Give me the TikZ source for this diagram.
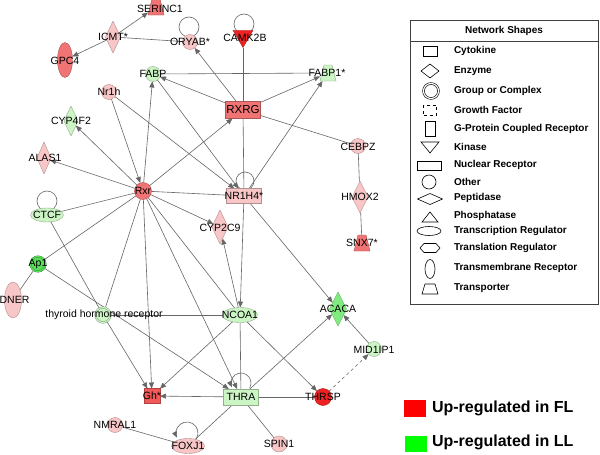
\documentclass[tikz,border=0pt]{standalone}
\usepackage{fontspec}
\setmainfont{Liberation Sans}
\usetikzlibrary{shapes.geometric,arrows.meta,backgrounds}
\definecolor{redS}{HTML}{EE2222}
\definecolor{redM}{HTML}{F07474}
\definecolor{redG}{HTML}{F25A5A}
\definecolor{pinkc}{HTML}{F8C6C6}
\definecolor{lgreen}{HTML}{CCF4C4}
\definecolor{greenc}{HTML}{5ADF5A}
\definecolor{greenA}{HTML}{80EC80}
\definecolor{edgec}{HTML}{666666}
\begin{document}
\begin{tikzpicture}[x=1pt,y=1pt,
 every node/.style={inner sep=0pt,outer sep=0pt},
 lbl/.style={font=\fontsize{10.5}{12}\selectfont},
 nd/.style={draw=#1!72!black, fill=#1, line width=0.4pt},
 nrect/.style={rectangle, minimum width=35pt, minimum height=16pt},
 nsq/.style={rectangle, minimum width=16pt, minimum height=15pt},
 ndia/.style={diamond, minimum width=16pt, minimum height=32pt},
 ncirc/.style={circle, minimum size=15pt},
 ngrp/.style={circle, minimum size=15pt, draw=#1!60!black, fill=#1, double=#1, double distance=1.2pt, line width=0.4pt},
 nell/.style={ellipse, minimum width=34pt, minimum height=15pt},
 nvell/.style={ellipse, minimum width=15pt, minimum height=35pt},
 ntrapbox/.style={rectangle, minimum width=16pt, minimum height=16pt},
 nkin/.style={regular polygon, regular polygon sides=3, shape border rotate=180, minimum size=23pt},
 e/.style={draw=edgec, line width=0.6pt},
 ea/.style={e, -{Triangle[length=6pt,width=5pt]}},
 lg/.style={draw=black, line width=0.6pt},
 lgt/.style={anchor=west, font=\bfseries\fontsize{10}{12}\selectfont},
 upt/.style={anchor=west, font=\bfseries\fontsize{16}{18}\selectfont}
]
\useasboundingbox (0,0) rectangle (600,-455);

% ---- network nodes ----
\node[ntrapbox] (serinc) at (156,-7) {};
\node[ndia, nd=pinkc, minimum width=15pt] (icmt) at (113,-37) {};
\node[nvell, nd=redM] (gpc4) at (65,-60) {};
\node[ncirc, nd=pinkc] (oryab) at (190,-42) {};
\node[nkin, nd=redS] (camk) at (243,-36) {};
\node[ncirc, nd=lgreen] (fabp) at (153,-74) {};
\node[ntrapbox] (fabp1) at (328,-73) {};
\node[ncirc, nd=pinkc] (nr1h) at (109,-92) {};
\node[nrect, nd=redM, minimum height=17pt] (rxrg) at (243,-110) {};
\node[ndia, nd=lgreen, minimum width=14pt, minimum height=30pt] (cyp4f2) at (71,-121) {};
\node[ncirc, nd=pinkc] (cebpz) at (358,-146) {};
\node[ndia, nd=pinkc, minimum width=14pt] (alas1) at (44,-158) {};
\node[ncirc, nd=redM, minimum size=17pt] (rxr) at (143,-191) {};
\node[nrect, nd=pinkc, minimum height=15pt] (nr1h4) at (244,-196) {};
\node[ndia, nd=pinkc] (hmox2) at (360,-197) {};
\node[nell, nd=lgreen, minimum width=33pt, minimum height=14pt] (ctcf) at (47,-215) {};
\node[ndia, nd=pinkc, minimum height=34pt] (cyp2c9) at (220,-227) {};
\node[ntrapbox] (snx7) at (362,-243) {};
\node[ngrp=greenc] (ap1) at (38,-264) {};
\node[nvell, nd=pinkc, minimum width=17pt, minimum height=36pt] (dner) at (13,-300) {};
\node[ngrp=lgreen] (thr) at (103,-315) {};
\node[nell, nd=lgreen, minimum width=35pt] (ncoa1) at (240,-315) {};
\node[ndia, nd=greenA, minimum width=17pt, minimum height=34pt] (acaca) at (338,-309) {};
\node[ncirc, nd=lgreen] (mid1ip1) at (374,-349) {};
\node[nsq, nd=redG] (gh) at (152,-396) {};
\node[nrect, nd=lgreen] (thra) at (241,-397) {};
\node[ncirc, nd=redS, minimum size=17pt] (thrsp) at (323,-397) {};
\node[ncirc, nd=pinkc] (nmral1) at (115,-425) {};
\node[nell, nd=pinkc, minimum width=33pt] (foxj1) at (188,-446) {};
\node[ncirc, nd=pinkc, minimum size=16pt] (spin1) at (279,-444) {};

% transporter outlines
\path[nd=redM] (serinc.south west) -- (serinc.south east) -- ([xshift=-4pt]serinc.north east) -- ([xshift=4pt]serinc.north west) -- cycle;
\path[nd=lgreen] (fabp1.south west) -- (fabp1.south east) -- ([xshift=-4pt]fabp1.north east) -- ([xshift=4pt]fabp1.north west) -- cycle;
\path[nd=redM] (snx7.south west) -- (snx7.south east) -- ([xshift=-4pt]snx7.north east) -- ([xshift=4pt]snx7.north west) -- cycle;

% ---- edges and loops (behind nodes) ----
\begin{scope}[on background layer]
\fill[white] (0,0) rectangle (600,-455);
% self loops
\draw[e] (189,-27) circle[radius=10pt];
\draw[e] (244,-24) circle[radius=10pt];
\draw[e] (245,-181) circle[radius=9pt];
\draw[e] (47,-201) circle[radius=10pt];
\draw[ea] (241,-383) ++(-30:10pt) arc[start angle=-30, end angle=205, radius=10pt];
\draw[ea] (187,-433) ++(-30:11pt) arc[start angle=-30, end angle=205, radius=11pt];
% connectors
\draw[ea] (icmt) -- (serinc);
\draw[ea] (icmt) -- (gpc4);
\draw[e] (icmt) -- (oryab);
\draw[ea] (rxrg) -- (oryab);
\draw[e] (fabp) -- (fabp1);
\draw[ea] (rxrg) -- (fabp1);
\draw[ea] (nr1h4) -- (fabp1);
\draw[ea] (rxrg) -- (fabp);
\draw[ea] (rxr) -- (fabp);
\draw[ea] (fabp) -- (nr1h4);
\draw[ea] (nr1h) -- (nr1h4);
\draw[ea] (nr1h) -- (rxr);
\draw[ea] (rxr) -- (rxrg);
\draw[e] (camk) -- (rxrg);
\draw[e] (rxrg) -- (nr1h4);
\draw[e] (rxrg) -- (cebpz);
\draw[e] (cebpz) -- (hmox2);
\draw[e] (hmox2) -- (snx7);
\draw[ea] (rxr) -- (cyp4f2);
\draw[ea] (rxr) -- (alas1);
\draw[e] (rxr) -- (ctcf);
\draw[e] (rxr) -- (ap1);
\draw[e] (rxr) -- (nr1h4);
\draw[ea] (rxr) -- (cyp2c9);
\draw[e] (rxr) -- (thr);
\draw[ea] (rxr) -- (gh);
\draw[e] (rxr) -- (ncoa1);
\draw[ea] (rxr) -- (thra);
\draw[e] (ctcf) -- (thr);
\draw[e] (ap1) -- (dner);
\draw[ea] (ap1) -- (thra);
\draw[e] (thr) -- (ncoa1);
\draw[ea] (thr) -- (gh);
\draw[ea] (nr1h4) -- (ncoa1);
\draw[ea] (ncoa1) -- (cyp2c9);
\draw[e] (ncoa1) -- (thra);
\draw[ea] (ncoa1) -- (gh);
\draw[ea] (ncoa1) -- (thrsp);
\draw[ea] (nr1h4) -- (acaca);
\draw[ea] (thra) -- (gh);
\draw[ea] (thra) -- (acaca);
\draw[e] (thra) -- (thrsp);
\draw[ea, dashed] (thrsp) -- (mid1ip1);
\draw[ea] (mid1ip1) -- (acaca);
\draw[e] (thra) -- (foxj1);
\draw[e] (thra) -- (spin1);
\draw[e] (nmral1) -- (foxj1);
\end{scope}

% ---- labels ----
\node[lbl] (lserinc) at (160,-9) {SERINC1};
\node[lbl] (licmt) at (113,-37) {ICMT*};
\node[lbl] (lgpc4) at (65,-61) {GPC4};
\node[lbl] (loryab) at (190,-42) {ORYAB*};
\node[lbl] (lcamk) at (245,-38) {CAMK2B};
\node[lbl] (lfabp) at (153,-74) {FABP};
\node[lbl] (lfabp1) at (327,-73) {FABP1*};
\node[lbl] (lnr1h) at (109,-92) {Nr1h};
\node[lbl, font=\fontsize{11.5}{13}\selectfont] (lrxrg) at (243,-110) {RXRG};
\node[lbl] (lcyp4f2) at (71,-121) {CYP4F2};
\node[lbl] (lcebpz) at (358,-147) {CEBPZ};
\node[lbl] (lalas1) at (45,-158) {ALAS1};
\node[lbl] (lrxr) at (143,-191) {Rxr};
\node[lbl] (lnr1h4) at (244,-196) {NR1H4*};
\node[lbl] (lhmox2) at (360,-197) {HMOX2};
\node[lbl] (lctcf) at (47,-215) {CTCF};
\node[lbl] (lcyp2c9) at (220,-228) {CYP2C9};
\node[lbl] (lsnx7) at (362,-243) {SNX7*};
\node[lbl] (lap1) at (38,-264) {Ap1};
\node[lbl] (ldner) at (14.5,-300) {DNER};
\node[lbl] (lthr) at (104,-315) {thyroid hormone receptor};
\node[lbl] (lncoa1) at (240,-315) {NCOA1};
\node[lbl] (lacaca) at (338,-309) {ACACA};
\node[lbl] (lmid1ip1) at (374,-350) {MID1IP1};
\node[lbl] (lgh) at (152,-396) {Gh*};
\node[lbl] (lthra) at (241,-397) {THRA};
\node[lbl] (lthrsp) at (323,-397) {THRSP};
\node[lbl] (lnmral1) at (115,-425) {NMRAL1};
\node[lbl] (lfoxj1) at (188,-446) {FOXJ1};
\node[lbl] (lspin1) at (279,-444) {SPIN1};

% ---- legend box ----
\draw[black!75, line width=0.8pt] (410,-20) rectangle (598,-304);
\draw[black!75, line width=0.8pt] (410,-41) -- (598,-41);
\node[font=\bfseries\fontsize{10}{12}\selectfont] (lhead) at (504,-31) {Network Shapes};

\node[lg, rectangle, minimum width=14pt, minimum height=10pt] (icyto) at (430,-51) {};
\node[lgt] (tcyto) at (454,-51) {Cytokine};
\node[lg, diamond, minimum width=18pt, minimum height=14pt] (ienz) at (430,-71) {};
\node[lgt] (tenz) at (454,-71) {Enzyme};
\node[lg, circle, minimum size=15pt, double, double distance=1.2pt] (igrp) at (431,-91) {};
\node[lgt] (tgrp) at (454,-91) {Group or Complex};
\node[lg, rectangle, dash pattern=on 3pt off 3pt, minimum width=13pt, minimum height=10pt] (igf) at (430,-110) {};
\node[lgt] (tgf) at (454,-110) {Growth Factor};
\node[lg, rectangle, minimum width=10pt, minimum height=15pt] (igp) at (430,-129) {};
\node[lgt] (tgp) at (454,-129) {G-Protein Coupled Receptor};
\draw[lg] (421,-142) -- (439,-142) -- (430,-153) -- cycle;
\node[lgt] (tkin) at (454,-147) {Kinase};
\node[lg, rectangle, minimum width=24pt, minimum height=9pt] (inr) at (429,-166) {};
\node[lgt] (tnr) at (454,-165) {Nuclear Receptor};
\node[lg, circle, minimum size=14pt] (iot) at (429,-182) {};
\node[lgt] (tot) at (454,-182) {Other};
\node[lg, diamond, minimum width=25pt, minimum height=11pt] (ipep) at (430,-199) {};
\node[lgt] (tpep) at (454,-198) {Peptidase};
\draw[lg] (422,-222) -- (438,-222) -- (430,-212) -- cycle;
\node[lgt] (tpho) at (454,-216) {Phosphatase};
\node[lg, ellipse, minimum width=24pt, minimum height=9pt] (itr) at (429,-231) {};
\node[lgt] (ttr) at (454,-231) {Transcription Regulator};
\draw[lg] (420,-248) -- (424,-243.5) -- (436,-243.5) -- (440,-248) -- (436,-252.5) -- (424,-252.5) -- cycle;
\node[lgt] (ttl) at (454,-248) {Translation Regulator};
\node[lg, ellipse, minimum width=10pt, minimum height=19pt] (itm) at (430,-269) {};
\node[lgt] (ttm) at (454,-268) {Transmembrane Receptor};
\draw[lg] (422,-294) -- (438,-294) -- (435,-284) -- (425,-284) -- cycle;
\node[lgt] (ttp) at (454,-288) {Transporter};

% ---- colour legend ----
\node[fill=red, minimum width=22pt, minimum height=17pt] (sqfl) at (415,-408.5) {};
\node[upt] (tfl) at (432,-408) {Up-regulated in FL};
\node[fill=green, minimum width=22pt, minimum height=16pt] (sqll) at (416,-443.5) {};
\node[upt] (tll) at (432,-442) {Up-regulated in LL};
\end{tikzpicture}
\end{document}
